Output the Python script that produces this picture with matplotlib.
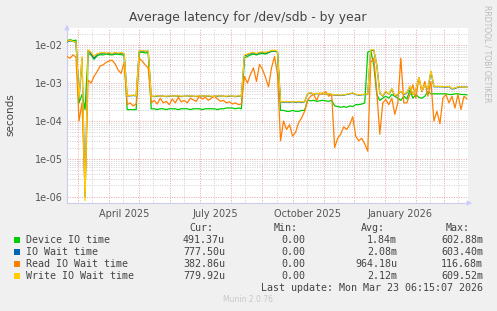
import matplotlib
matplotlib.use("Agg")
import matplotlib.pyplot as plt
from matplotlib.ticker import LogLocator, NullFormatter, FixedLocator
import numpy as np
import pandas as pd

# sample spacing is 3 days, starting at the left edge of the graph
start = pd.Timestamp("2025-02-18")
days = list(range(0, 400, 3))

# values in milliseconds
device_ms = [13, 14, 13, 13.5, 0.3, 0.5, 0.2, 6.0, 5.5, 4.2, 5.2, 5.6, 5.5, 5.8, 5.6, 5.5, 5.8, 5.7, 5.6, 5.4,
             0.2, 0.2, 0.2, 0.2, 6.3, 6.5, 6.2, 6.4, 0.21, 0.21, 0.2, 0.21, 0.21, 0.2, 0.21, 0.21, 0.21, 0.2,
             0.21, 0.21, 0.21, 0.2, 0.21, 0.21, 0.21, 0.2, 0.21, 0.21, 0.21, 0.21, 0.2, 0.21, 0.21, 0.22, 0.22,
             0.22, 0.21, 0.22, 0.21, 4.6, 5.0, 5.5, 5.8, 5.5, 5.9, 6.0, 5.8, 6.3, 6.8, 7.0, 6.5, 0.19, 0.19,
             0.18, 0.18, 0.19, 0.18, 0.18, 0.19, 0.19, 0.35, 0.34, 0.35, 0.33, 0.34, 0.35, 0.34, 0.33, 0.35,
             0.25, 0.24, 0.23, 0.24, 0.23, 0.25, 0.24, 0.27, 0.27, 0.28, 0.3, 6.5, 7.0, 3.0, 0.5, 0.35, 0.4,
             0.45, 0.4, 0.5, 0.45, 0.4, 0.35, 0.45, 0.38, 0.65, 0.4, 0.5, 0.42, 0.4, 0.45, 0.6, 0.52, 0.52,
             0.52, 0.52, 0.52, 0.52, 0.5, 0.5, 0.52, 0.52, 0.5, 0.5, 0.49]
iowait_ms = [12, 13, 12.5, 12, 0.4, 4.5, 0.001, 7.2, 6.0, 4.6, 5.8, 6.0, 6.2, 6.0, 6.1, 5.9, 6.2, 6.0, 6.1, 5.9,
             0.46, 0.46, 0.47, 0.46, 6.9, 7.0, 6.8, 6.9, 0.45, 0.44, 0.45, 0.46, 0.45, 0.44, 0.45, 0.45, 0.46,
             0.45, 0.44, 0.45, 0.46, 0.45, 0.45, 0.44, 0.45, 0.46, 0.45, 0.45, 0.44, 0.45, 0.45, 0.46, 0.45,
             0.44, 0.45, 0.45, 0.44, 0.45, 0.45, 5.2, 5.6, 6.0, 6.2, 5.8, 6.3, 6.4, 6.2, 6.6, 7.0, 7.1, 6.6,
             0.32, 0.31, 0.32, 0.31, 0.32, 0.31, 0.32, 0.31, 0.32, 0.52, 0.55, 0.5, 0.53, 0.51, 0.54, 0.5,
             0.52, 0.5, 0.48, 0.48, 0.47, 0.48, 0.5, 0.52, 0.54, 0.5, 0.48, 0.49, 0.5, 0.5, 7.2, 7.4, 3.0, 0.55,
             0.45, 0.6, 0.5, 0.7, 0.45, 0.5, 0.6, 0.5, 0.55, 0.8, 0.5, 0.65, 1.4, 0.6, 0.9, 0.7, 2.0, 0.8,
             0.8, 0.8, 0.79, 0.78, 0.8, 0.7, 0.72, 0.78, 0.79, 0.78, 0.78]
read_ms = [5.0, 4.5, 5.5, 4.8, 0.1, 0.3, 0.0012, 1.2, 1.0, 1.5, 2.0, 2.8, 3.0, 3.5, 3.8, 4.0, 3.2, 2.2, 1.8, 3.5,
           0.27, 0.3, 0.25, 0.28, 4.5, 3.8, 3.0, 2.5, 0.3, 0.35, 0.28, 0.4, 0.3, 0.33, 0.27, 0.38, 0.3, 0.42,
           0.32, 0.35, 0.3, 0.4, 0.36, 0.33, 0.45, 0.38, 0.42, 0.35, 0.4, 0.45, 0.38, 0.33, 0.35, 0.3, 0.32,
           0.28, 0.3, 0.27, 0.28, 1.5, 1.0, 1.7, 2.5, 1.1, 3.1, 2.3, 1.4, 0.8, 2.5, 5.0, 1.7, 0.03, 0.1,
           0.06, 0.08, 0.04, 0.05, 0.09, 0.12, 0.18, 0.35, 0.45, 0.5, 0.35, 0.55, 0.5, 0.6, 0.45, 0.5, 0.02,
           0.035, 0.045, 0.07, 0.06, 0.08, 0.13, 0.04, 0.03, 0.035, 0.025, 0.016, 3.5, 4.5, 0.6, 0.045, 0.3,
           0.37, 0.27, 0.4, 0.15, 0.3, 4.5, 0.3, 0.3, 0.5, 0.9, 0.4, 1.4, 0.6, 1.1, 0.45, 1.1, 0.1, 0.18,
           0.085, 0.4, 0.5, 0.3, 0.45, 0.22, 0.5, 0.2, 0.45, 0.38]
write_ms = [12.5, 13.5, 12.5, 12, 0.4, 5.0, 0.0008, 7.5, 6.5, 5.0, 6.0, 6.2, 6.4, 6.1, 6.3, 6.0, 6.4, 6.1, 6.3, 6.0,
            0.47, 0.47, 0.48, 0.47, 7.0, 7.2, 6.9, 7.0, 0.45, 0.45, 0.46, 0.46, 0.45, 0.45, 0.46, 0.45, 0.46,
            0.46, 0.45, 0.45, 0.46, 0.46, 0.45, 0.45, 0.46, 0.46, 0.45, 0.46, 0.45, 0.45, 0.46, 0.46, 0.45,
            0.45, 0.46, 0.45, 0.45, 0.46, 0.45, 5.5, 5.8, 6.2, 6.4, 6.0, 6.5, 6.6, 6.4, 6.8, 7.2, 7.3, 6.8,
            0.32, 0.32, 0.33, 0.32, 0.32, 0.32, 0.33, 0.32, 0.32, 0.53, 0.56, 0.51, 0.54, 0.52, 0.55, 0.51,
            0.53, 0.51, 0.49, 0.49, 0.48, 0.49, 0.51, 0.53, 0.55, 0.51, 0.49, 0.5, 0.51, 0.51, 7.5, 7.6, 3.0, 0.55,
            0.46, 0.62, 0.5, 0.72, 0.46, 0.52, 0.6, 0.52, 0.56, 0.83, 0.5, 0.66, 1.4, 0.62, 0.9, 0.72, 2.1,
            0.82, 0.82, 0.82, 0.8, 0.8, 0.82, 0.72, 0.74, 0.8, 0.8, 0.78, 0.78]

names = ["Device IO time", "IO Wait time", "Read IO Wait time", "Write IO Wait time"]
colors = ["#00CC00", "#0066B3", "#FF8000", "#FFCC00"]
cur = ["491.37u", "777.50u", "382.86u", "779.92u"]
mins = ["0.00", "0.00", "0.00", "0.00"]
avg = ["1.84m", "2.08m", "964.18u", "2.12m"]
maxs = ["602.88m", "603.40m", "116.68m", "609.52m"]
month_labels = ["April 2025", "July 2025", "October 2025", "January 2026"]
label_dates = ["2025-04-16", "2025-07-16", "2025-10-16", "2026-01-16"]

bg = "#F0F0F0"
W, H = 497, 311
fig = plt.figure(figsize=(W / 100, H / 100), dpi=100, facecolor=bg)
ax = fig.add_axes([67 / W, (H - 203) / H, 401 / W, 175 / H])
ax.set_facecolor("white")

x = start + pd.to_timedelta(days, unit="D")
for vals, c in zip([device_ms, iowait_ms, read_ms, write_ms], colors):
    ax.plot(x, np.array(vals) / 1000.0, color=c, lw=0.9, zorder=3)

ax.set_yscale("log")
ax.set_ylim(10 ** -6.16, 10 ** -1.55)
ax.set_xlim(start, start + pd.Timedelta(days=400))

# grid: red dotted for majors, grey dotted for minors
ax.yaxis.set_major_locator(FixedLocator([1e-6, 1e-5, 1e-4, 1e-3, 1e-2]))
ax.yaxis.set_minor_locator(LogLocator(base=10, subs=np.arange(2, 10)))
ax.yaxis.set_minor_formatter(NullFormatter())
ax.set_yticklabels(["1e-06", "1e-05", "1e-04", "1e-03", "1e-02"])

months = pd.date_range("2025-03-01", "2026-03-01", freq="MS")
mids = months + pd.Timedelta(days=14)
for m in months:
    ax.axvline(m, color="#E7A3A3", lw=0.7, ls=(0, (1, 1.5)), zorder=1)
for m in mids:
    ax.axvline(m, color="#CFCFCF", lw=0.7, ls=(0, (1, 1.5)), zorder=1)
for dec in range(-6, -1):
    for s in range(2, 10):
        ax.axhline(s * 10.0 ** dec, color="#CFCFCF", lw=0.7, ls=(0, (1, 1.5)), zorder=1)
    ax.axhline(10.0 ** dec, color="#E7A3A3", lw=0.7, ls=(0, (1, 1.5)), zorder=1)

ax.set_xticks(pd.to_datetime(label_dates))
ax.set_xticklabels(month_labels)
ax.tick_params(axis="both", which="both", length=0, labelsize=7, colors="#555555", pad=3)
ax.tick_params(axis="x", pad=4)

for s in ["top", "right"]:
    ax.spines[s].set_visible(False)
for s in ["left", "bottom"]:
    ax.spines[s].set_color("#CCCCEE")
    ax.spines[s].set_linewidth(0.8)
ax.annotate("", xy=(67 / W, (H - 22) / H), xytext=(67 / W, (H - 30) / H), xycoords="figure fraction",
            arrowprops=dict(arrowstyle="-|>", color="#CCCCFF", lw=0.8, mutation_scale=7))
ax.annotate("", xy=(475 / W, (H - 203) / H), xytext=(466 / W, (H - 203) / H), xycoords="figure fraction",
            arrowprops=dict(arrowstyle="-|>", color="#CCCCFF", lw=0.8, mutation_scale=7))

fig.text(248 / W, 1 - 18 / H, "Average latency for /dev/sdb - by year", ha="center", va="center",
         fontsize=8.9, color="#444444")
fig.text(10 / W, 1 - 115 / H, "seconds", rotation=90, ha="center", va="center", fontsize=7.5, color="#444444")
fig.text(487 / W, 1 - 5 / H, "RRDTOOL / TOBI OETIKER", rotation=270, ha="center", va="top",
         fontsize=5.5, color="#BBBBBB")

# legend block, monospace like rrdtool
mono = dict(family="DejaVu Sans Mono", fontsize=7.2, color="#444444")
hy = 228
for label, xr in zip(["Cur:", "Min:", "Avg:", "Max:"], [213, 298, 385, 470]):
    fig.text(xr / W, 1 - hy / H, label, ha="right", va="center", **mono)
for i in range(4):
    y = 240 + 12 * i
    fig.patches.append(plt.Rectangle((14 / W, 1 - (y + 3) / H), 6 / W, 6 / H, transform=fig.transFigure,
                                     facecolor=colors[i], edgecolor="none"))
    fig.text(26 / W, 1 - y / H, names[i], ha="left", va="center", **mono)
    for val, xr in zip([cur[i], mins[i], avg[i], maxs[i]], [225, 305, 397, 483]):
        fig.text(xr / W, 1 - y / H, val, ha="right", va="center", **mono)
fig.text(483 / W, 1 - 288 / H, "Last update: Mon Mar 23 06:15:07 2026", ha="right", va="center", **mono)
fig.text(248 / W, 1 - 300 / H, "Munin 2.0.76", ha="center", va="center", fontsize=5.5, color="#C8C8C8")

fig.savefig("out.png", dpi=100, facecolor=bg)
